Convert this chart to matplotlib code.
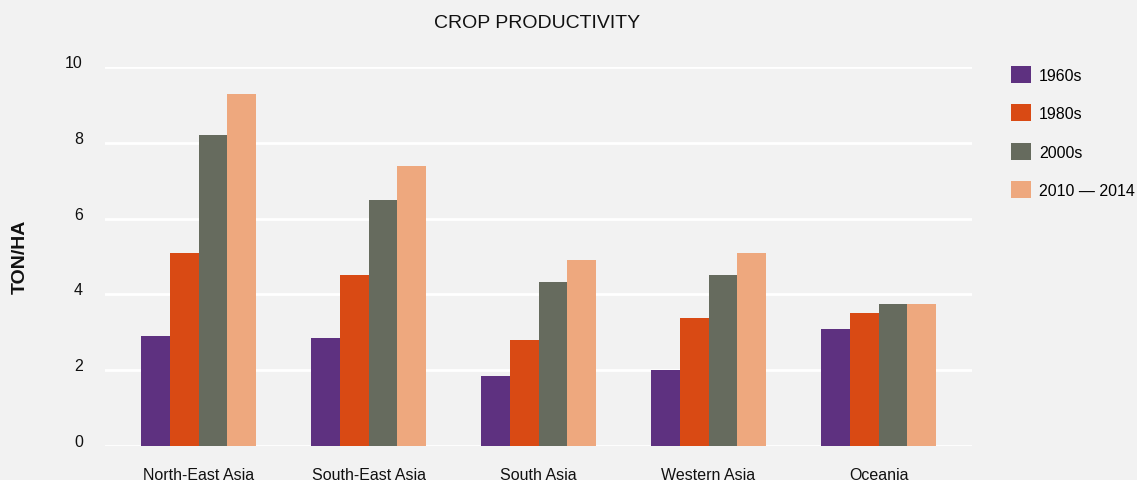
import matplotlib.pyplot as plt
import numpy as np
from matplotlib.patches import Patch

regions = ["North-East Asia", "South-East Asia", "South Asia", "Western Asia", "Oceania"]
periods = ["1960s", "1980s", "2000s", "2010 \u2014 2014"]
v_1960s = [2.9, 2.85, 1.85, 2.0, 3.1]
v_1980s = [5.1, 4.5, 2.8, 3.38, 3.5]
v_2000s = [8.2, 6.5, 4.33, 4.5, 3.75]
v_2010s = [9.3, 7.4, 4.9, 5.1, 3.75]
series = [v_1960s, v_1980s, v_2000s, v_2010s]
colors = ["#5e3180", "#d94a14", "#666b5e", "#eea87e"]

plt.rcParams['font.family'] = ['Liberation Sans', 'DejaVu Sans']
bg = "#f2f2f2"

fig = plt.figure(figsize=(11.37, 4.81), dpi=100, facecolor=bg)
ax = fig.add_axes([105 / 1137, 1 - 447 / 481, 867 / 1137, 379 / 481])
ax.set_facecolor(bg)

x = np.arange(len(regions))
w = 0.168
for i, (vals, c) in enumerate(zip(series, colors)):
    ax.bar(x + (i - 1.5) * w, vals, width=w, color=c, zorder=3)

ax.set_xlim(-0.55, 4.55)
ax.set_ylim(0, 10)
ax.set_yticks([0, 2, 4, 6, 8, 10])
ax.grid(axis='y', color='white', linewidth=2, zorder=0)
ax.set_axisbelow(True)
for s in ax.spines.values():
    s.set_visible(False)
ax.tick_params(axis='both', length=0, labelsize=11.5, colors='#111111')
ax.tick_params(axis='y', pad=16)
ax.tick_params(axis='x', pad=15)
for t in ax.get_yticklabels():
    t.set_verticalalignment('baseline')
ax.set_xticks(x)
ax.set_xticklabels(regions)

fig.text(537 / 1137, 1 - 23 / 481, "CROP PRODUCTIVITY", ha='center', va='center',
         fontsize=14, color='#111111')
fig.text(20 / 1137, 1 - 257 / 481, "TON/HA", rotation=90, ha='center', va='center',
         fontsize=14, fontweight='bold', color='#111111')

handles = [Patch(facecolor=c, edgecolor='none') for c in colors]
fig.legend(handles, periods, loc='upper left',
           bbox_to_anchor=(1011 / 1137, 1 - 67 / 481), frameon=False,
           fontsize=11.5, handlelength=1.25, handleheight=1.25,
           labelspacing=1.35, handletextpad=0.5, borderpad=0, borderaxespad=0)

fig.savefig("out.png", dpi=100, facecolor=bg)
